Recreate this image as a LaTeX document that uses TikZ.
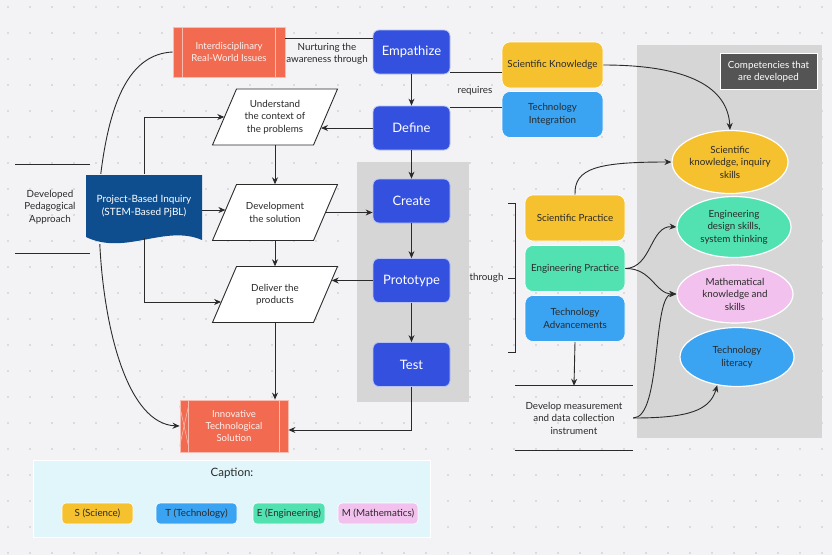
\documentclass[tikz,border=0pt]{standalone}
\usepackage{fontspec}
\setmainfont{Lato}
\usetikzlibrary{shapes.geometric,arrows.meta,calc}
\definecolor{bgc}{HTML}{F3F3F6}
\definecolor{dotc}{HTML}{C4C4C8}
\definecolor{pblue}{HTML}{3450DE}
\definecolor{dblue}{HTML}{0E4E8E}
\definecolor{redb}{HTML}{F26A4F}
\definecolor{yel}{HTML}{F6C12E}
\definecolor{lblue}{HTML}{3AA3F2}
\definecolor{grn}{HTML}{52E2B2}
\definecolor{pnk}{HTML}{F3C1EE}
\definecolor{panel}{HTML}{D6D6D6}
\definecolor{capc}{HTML}{E1F6FB}
\definecolor{ink}{HTML}{2A2A2A}
\definecolor{dgray}{HTML}{545454}
\begin{document}
\begin{tikzpicture}[x=1pt,y=-1pt,
 txt/.style={font=\fontsize{9.8}{12.5}\selectfont, text=ink, align=center},
 proc/.style={draw=white!65!pblue, line width=0.8pt, fill=pblue, rounded corners=6pt, minimum width=77pt, minimum height=44pt, text=white, font=\fontsize{13}{15}\selectfont},
 stem/.style={draw=white, line width=0.6pt, rounded corners=8pt, minimum width=101pt, minimum height=46pt, inner sep=1pt, txt},
 ell/.style={ellipse, draw=white, line width=1.2pt, inner sep=0pt, txt},
 conn/.style={draw=ink, line width=0.9pt},
 arr/.style={conn, -{Stealth[length=7pt,width=6pt]}},
 para/.style={draw=ink, line width=0.9pt, fill=white},
 ptext/.style={txt, minimum width=101pt, minimum height=56pt, inner sep=0pt},
 redbox/.style={fill=redb, draw=white!55!redb, line width=0.8pt, text=white!92!redb, align=center, font=\fontsize{9.6}{12}\selectfont},
 legend/.style={rounded corners=4pt, draw=white, line width=0.6pt, minimum height=21pt, txt, inner sep=1pt},
]
\fill[bgc] (0,0) rectangle (832,555);
\useasboundingbox (0,0) rectangle (832,555);
\foreach \i in {0,...,37} \foreach \j in {0,...,21} \fill[dotc] (8+\i*22, 7+\j*26) circle (0.8);

% panels
\fill[panel] (357,162) rectangle (469,402);
\fill[panel] (637,45) rectangle (822,438);

% left decoration
\draw[ink, line width=0.9pt] (15,164) -- (90,164);
\draw[ink, line width=0.9pt] (15,253) -- (90,253);
\node[txt] (dpa) at (50,207) {Developed\\Pedagogical\\Approach};

% red boxes
\node[redbox, minimum width=112pt, minimum height=50pt] (ii) at (229,52) {Interdisciplinary\\Real-World Issues};
\draw[white!55!redb, line width=0.8pt] ($(ii.north west)+(10,0)$) -- ($(ii.south west)+(10,0)$);
\draw[white!55!redb, line width=0.8pt] ($(ii.north east)+(-10,0)$) -- ($(ii.south east)+(-10,0)$);
\node[redbox, minimum width=108pt, minimum height=52pt] (inn) at (234,426) {Innovative\\Technological\\Solution};
\draw[white!55!redb, line width=0.8pt] ($(inn.north west)+(9,0)$) -- ($(inn.south west)+(9,0)$);
\draw[white!55!redb, line width=0.6pt] ($(inn.north west)+(0,6)$) -- ($(inn.south west)+(9,-6)$);
\draw[white!55!redb, line width=0.6pt] ($(inn.north west)+(9,6)$) -- ($(inn.south west)+(0,-6)$);
\draw[white!55!redb, line width=0.8pt] ($(inn.north east)+(-9,0)$) -- ($(inn.south east)+(-9,0)$);

% PBI document shape
\fill[dblue] (86,175) -- (202,175) -- (202,240) .. controls (165,224) and (125,256) .. (86,237) -- cycle;
\node[text=white, align=center, font=\fontsize{10}{12.5}\selectfont, minimum width=116pt, minimum height=64pt, inner sep=0pt] (pbi) at (144,206) {Project-Based Inquiry\\(STEM-Based PjBL)};

% parallelograms
\foreach \cy in {117,212.5,294.5}
  \draw[para] (275-38.5,\cy-28) -- (275+62.5,\cy-28) -- (275+38.5,\cy+28) -- (275-62.5,\cy+28) -- cycle;
\node[ptext] (u) at (275,117) {Understand\\the context of\\the problems};
\node[ptext] (dv) at (275,212.5) {Development\\the solution};
\node[ptext] (dl) at (275,294.5) {Deliver the\\products};

% process boxes
\node[proc] (em) at (411.5,52) {Empathize};
\node[proc] (df) at (411.5,128) {Define};
\node[proc] (cr) at (411.5,201) {Create};
\node[proc] (pr) at (411.5,280.5) {Prototype};
\node[proc] (ts) at (411.5,364.5) {Test};

% STEM boxes
\node[stem, fill=yel] (sk) at (552.5,65) {Scientific Knowledge};
\node[stem, fill=lblue] (ti) at (552.5,114.5) {Technology\\Integration};
\node[stem, fill=yel, minimum width=100pt] (sp) at (575,218) {Scientific Practice};
\node[stem, fill=grn, minimum width=100pt] (ep) at (575,268.5) {Engineering Practice};
\node[stem, fill=lblue, minimum width=100pt] (ta) at (575,318.5) {Technology\\Advancements};

% competencies
\node[fill=dgray, draw=white, line width=1pt, text=white, align=center, font=\fontsize{9.8}{12}\selectfont, minimum width=97pt, minimum height=36pt, inner sep=1pt] (cp) at (768.5,71.5) {Competencies that\\are developed};
\node[ell, fill=yel, minimum width=116pt, minimum height=63pt] (e1) at (730,162) {Scientific\\knowledge, inquiry\\skills};
\node[ell, fill=grn, minimum width=114pt, minimum height=61pt] (e2) at (734,227) {Engineering\\design skills,\\system thinking};
\node[ell, fill=pnk, minimum width=116pt, minimum height=58pt] (e3) at (735,294) {Mathematical\\knowledge and\\skills};
\node[ell, fill=lblue, minimum width=114pt, minimum height=59pt] (e4) at (737,357) {Technology\\literacy};

% develop measurement
\node[txt, minimum width=118pt, minimum height=64pt, inner sep=0pt] (dev) at (574,418) {Develop measurement\\and data collection\\instrument};
\draw[ink, line width=0.8pt] (dev.north west) -- (dev.north east);
\draw[ink, line width=0.8pt] (dev.south west) -- (dev.south east);

% bracket
\draw[ink, line width=0.9pt] (508,203) -- (515,203) -- (515,352) -- (508,352);
\draw[ink, line width=0.9pt] (515,278) -- (508,278);
\node[txt, anchor=east] (thr) at (507,278) {through};

% labels
\node[txt] (nur) at (327,54) {Nurturing the\\awareness through};
\node[txt] (req) at (475,91) {requires};

% caption
\node[fill=capc, draw=white, line width=0.8pt, minimum width=397pt, minimum height=77pt] (cb) at (231.5,498.5) {};
\node[txt, font=\fontsize{11.5}{13}\selectfont] (ct) at (232,473) {Caption:};
\node[legend, fill=yel, minimum width=71pt] (ls) at (97.5,513.5) {S (Science)};
\node[legend, fill=lblue, minimum width=81pt] (lt) at (196.5,513.5) {T (Technology)};
\node[legend, fill=grn, minimum width=72pt] (le) at (289,513.5) {E (Engineering)};
\node[legend, fill=pnk, minimum width=80pt] (lm) at (378,513.5) {M (Mathematics)};

% connectors
\draw[conn] ($(ii.east)+(0,-14)$) -- ($(em.west)+(0,-14)$);
\draw[arr] (em.south) -- (df.north);
\draw[arr] (df.south) -- (cr.north);
\draw[arr] (cr.south) -- (pr.north);
\draw[arr] (pr.south) -- (ts.north);
\draw[arr] (df.west) -- ($(u.east)+(-4.7,11)$);
\draw[arr] (u.south) -- (dv.north);
\draw[arr] (dv.south) -- (dl.north);
\draw[arr] (dl.south) -- (dl.south |- inn.north);
\draw[arr] (dv.east) -- (dv.east -| cr.west);
\draw[arr] (pr.west) -- ($(dl.east)+(6,-14)$);
\draw[arr] (ts.south) |- ($(inn.east)+(0,4)$);
\draw[arr] ($(pbi.east)+(0,4)$) -- ($(dv.west)+(1.1,-2.5)$);
\draw[arr] (pbi.north) |- (u.west);
\draw[arr] (pbi.south) |- ($(dl.west)+(-3.2,7.5)$);
\draw[conn] ($(pbi.north west)+(15,0)$) .. controls (110,100) and (130,54) .. (ii.west);
\draw[arr] ($(pbi.south west)+(14,6)$) .. controls (104,330) and (128,424) .. (inn.west);
\draw[conn] ($(em.east)+(0,20)$) -- ($(sk.west)+(0,7)$);
\draw[conn] ($(df.east)+(0,-21)$) -- ($(ti.west)+(0,-7.5)$);
\draw[arr] (sk.east) .. controls (690,65) and (728,88) .. (e1.north);
\draw[arr] (sp.north) .. controls (574,168) and (598,162) .. (e1.west);
\draw[arr] (ep.east) .. controls (652,268) and (650,225) .. (e2.west);
\draw[arr] (ep.east) .. controls (652,268) and (655,294) .. (e3.west);
\draw[arr] (ta.south) -- (dev.north);
\draw[arr] (dev.east) .. controls (662,418) and (652,294) .. (e3.west);
\draw[arr] (dev.east) .. controls (690,418) and (710,410) .. (e4.235);
\end{tikzpicture}
\end{document}
